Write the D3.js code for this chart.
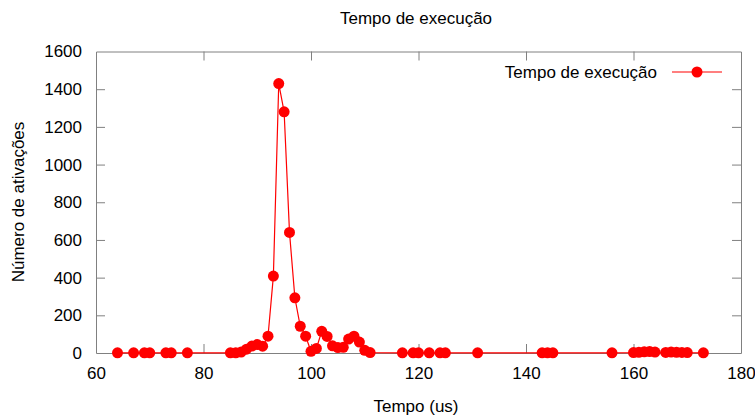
<!DOCTYPE html>
<html><head><meta charset="utf-8">
<script src="https://cdn.jsdelivr.net/npm/d3@7"></script>
<style>
html,body{margin:0;padding:0;background:#fff;}
text{font-family:"Liberation Sans",Arial,sans-serif;font-size:17px;fill:#000;}
</style></head>
<body>
<svg id="c" width="755" height="415"></svg>
<script>
const title = "Tempo de execução";
const xLabel = "Tempo (us)";
const yLabel = "Número de ativações";
const seriesName = "Tempo de execução";
const xTicks = [60, 80, 100, 120, 140, 160, 180];
const yTicks = [0, 200, 400, 600, 800, 1000, 1200, 1400, 1600];
const times = [64, 67, 69, 70, 73, 74, 77,
  85, 86, 87, 88, 89, 90, 91, 92, 93, 94, 95, 96, 97, 98, 99, 100,
  101, 102, 103, 104, 105, 106, 107, 108, 109, 110, 111,
  117, 119, 120, 122, 124, 125, 131, 143, 144, 145, 156,
  160, 161, 162, 163, 164, 166, 167, 168, 169, 170, 173];
const counts = [1, 1, 1, 1, 1, 1, 1,
  1, 1, 5, 20, 37, 45, 36, 89, 408, 1430, 1280, 640, 293, 142, 89, 9,
  24, 115, 88, 38, 29, 30, 74, 89, 58, 14, 2,
  1, 1, 1, 1, 1, 1, 1, 1, 1, 1, 1,
  2, 4, 6, 8, 5, 3, 5, 4, 3, 2, 1];

const svg = d3.select("#c");
const L = 96, R = 741, T = 51.5, B = 353;
const x = d3.scaleLinear().domain([60, 180]).range([L, R]);
const y = d3.scaleLinear().domain([0, 1600]).range([B, T]);
const axisCol = "#808080";
const tick = 9;
const fmt = d3.format("d");

// axes with mirrored ticks
const gB = svg.append("g").attr("transform", `translate(0,${B})`)
  .call(d3.axisBottom(x).tickValues(xTicks).tickFormat(fmt).tickSizeInner(-tick).tickSizeOuter(0).tickPadding(14));
const gT = svg.append("g").attr("transform", `translate(0,${T})`)
  .call(d3.axisTop(x).tickValues(xTicks).tickSizeInner(-tick).tickSizeOuter(0).tickFormat(""));
const gL = svg.append("g").attr("transform", `translate(${L},0)`)
  .call(d3.axisLeft(y).tickValues(yTicks).tickFormat(fmt).tickSizeInner(-tick).tickSizeOuter(0).tickPadding(14));
const gR = svg.append("g").attr("transform", `translate(${R},0)`)
  .call(d3.axisRight(y).tickValues(yTicks).tickSizeInner(-tick).tickSizeOuter(0).tickFormat(""));
[gB, gT, gL, gR].forEach(g => {
  g.selectAll("path.domain").attr("stroke", axisCol).attr("stroke-width", 1);
  g.selectAll(".tick line").attr("stroke", axisCol).attr("stroke-width", 1);
  g.selectAll(".tick text").attr("fill", "#000").style("font-size", "17px")
    .style("font-family", '"Liberation Sans",Arial,sans-serif');
});
// hide end ticks that coincide with border
gB.selectAll(".tick").filter(d => d === 60 || d === 180).select("line").remove();
gT.selectAll(".tick").filter(d => d === 60 || d === 180).select("line").remove();
gL.selectAll(".tick").filter(d => d === 0 || d === 1600).select("line").remove();
gR.selectAll(".tick").filter(d => d === 0 || d === 1600).select("line").remove();
gB.selectAll(".tick text").attr("dy", "0.71em");

// data
const data = times.map((t, i) => ({t, v: counts[i]}));
const line = d3.line().x(d => x(d.t)).y(d => y(d.v));
svg.append("path").datum(data).attr("d", line)
  .attr("fill", "none").attr("stroke", "#ff0000").attr("stroke-width", 1.2);
svg.append("g").selectAll("circle").data(data).join("circle")
  .attr("cx", d => x(d.t)).attr("cy", d => y(d.v)).attr("r", 5.5).attr("fill", "#ff0000");

// titles
svg.append("text").attr("x", 416).attr("y", 18).attr("text-anchor", "middle")
  .attr("dominant-baseline", "central").text(title);
svg.append("text").attr("x", 416).attr("y", 406).attr("text-anchor", "middle")
  .attr("dominant-baseline", "central").text(xLabel);
svg.append("text").attr("transform", "translate(18,202) rotate(-90)").attr("text-anchor", "middle")
  .attr("dominant-baseline", "central").text(yLabel);

// legend
const ly = 72;
svg.append("text").attr("x", 657).attr("y", ly).attr("text-anchor", "end")
  .attr("dominant-baseline", "central").text(seriesName);
svg.append("line").attr("x1", 672).attr("x2", 722).attr("y1", ly).attr("y2", ly)
  .attr("stroke", "#ff0000").attr("stroke-width", 1.2);
svg.append("circle").attr("cx", 697).attr("cy", ly).attr("r", 5.5).attr("fill", "#ff0000");
</script>
</body></html>
